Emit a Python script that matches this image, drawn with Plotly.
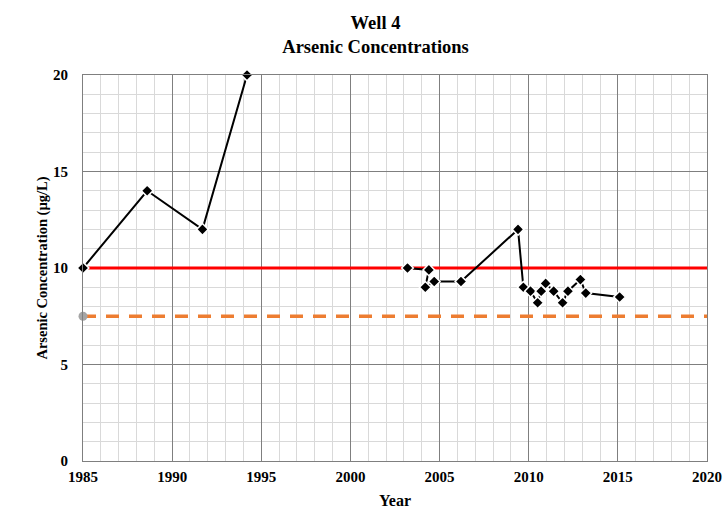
import plotly.graph_objects as go

# Well 4 arsenic results (year, ug/L); None breaks the line
years = [1985.0, 1988.6, 1991.7, 1994.2, None,
         2003.2, 2004.4, 2004.2, 2004.7, 2006.2, 2009.4, 2009.7, 2010.1,
         2010.5, 2010.7, 2010.95, 2011.4, 2011.9, 2012.2, 2012.9, 2013.2, 2015.1]
arsenic = [10.0, 14.0, 12.0, 20.0, None,
           10.0, 9.9, 9.0, 9.3, 9.3, 12.0, 9.0, 8.8,
           8.2, 8.8, 9.2, 8.8, 8.2, 8.8, 9.4, 8.7, 8.5]

mcl_years = [1985, 2020]
mcl_value = [10, 10]
trigger_years = [1985, 2020]
trigger_value = [7.5, 7.5]

font_family = "Liberation Serif"

fig = go.Figure()

fig.add_trace(go.Scatter(
    x=mcl_years, y=mcl_value, mode="lines",
    line=dict(color="#FF0000", width=3), showlegend=False, hoverinfo="skip"))

fig.add_trace(go.Scatter(
    x=trigger_years, y=trigger_value, mode="lines",
    line=dict(color="#ED7D31", width=3.5, dash="13px,10px"), showlegend=False))

fig.add_trace(go.Scatter(
    x=[trigger_years[0]], y=[trigger_value[0]], mode="markers", cliponaxis=False,
    marker=dict(color="#A5A5A5", size=9, symbol="circle"), showlegend=False))

fig.add_trace(go.Scatter(
    x=years, y=arsenic, mode="lines+markers", connectgaps=False, cliponaxis=False,
    line=dict(color="black", width=2),
    marker=dict(symbol="diamond", size=9, color="black",
                line=dict(color="white", width=1.5)),
    showlegend=False))

fig.update_layout(
    width=725, height=527,
    paper_bgcolor="white", plot_bgcolor="white",
    margin=dict(l=83, r=18, t=75, b=66),
    font=dict(family=font_family, color="black"),
    title=dict(text="<b>Well 4<br>Arsenic Concentrations</b>",
               x=0.518, xanchor="center", y=0.945, yanchor="top",
               font=dict(size=18.5, family=font_family)),
)

fig.update_xaxes(
    range=[1985, 2020], dtick=5, tick0=1985, automargin=False,
    tickfont=dict(size=15, family=font_family, weight="bold"),
    title=dict(text="<b>Year</b>", font=dict(size=16), standoff=10),
    showgrid=True, gridcolor="#7F7F7F", gridwidth=1,
    minor=dict(dtick=1, showgrid=True, gridcolor="#D9D9D9", gridwidth=1),
    showline=True, linecolor="#7F7F7F", linewidth=1, mirror=True,
    zeroline=False, ticks="", ticklabelstandoff=2,
)
fig.update_yaxes(
    range=[0, 20], dtick=5, automargin=False,
    tickfont=dict(size=15, family=font_family, weight="bold"),
    title=dict(text="<b>Arsenic Concentration (µg/L)</b>", font=dict(size=14.5), standoff=1),
    showgrid=True, gridcolor="#7F7F7F", gridwidth=1,
    minor=dict(dtick=1, showgrid=True, gridcolor="#D9D9D9", gridwidth=1),
    showline=True, linecolor="#7F7F7F", linewidth=1, mirror=True,
    zeroline=False, ticks="", ticklabelstandoff=11,
)

# drop the page's default body margin so the figure sits at the window's corner
fig.write_html("out.html", config={"displayModeBar": False},
               post_script="document.body.style.margin='0';")
